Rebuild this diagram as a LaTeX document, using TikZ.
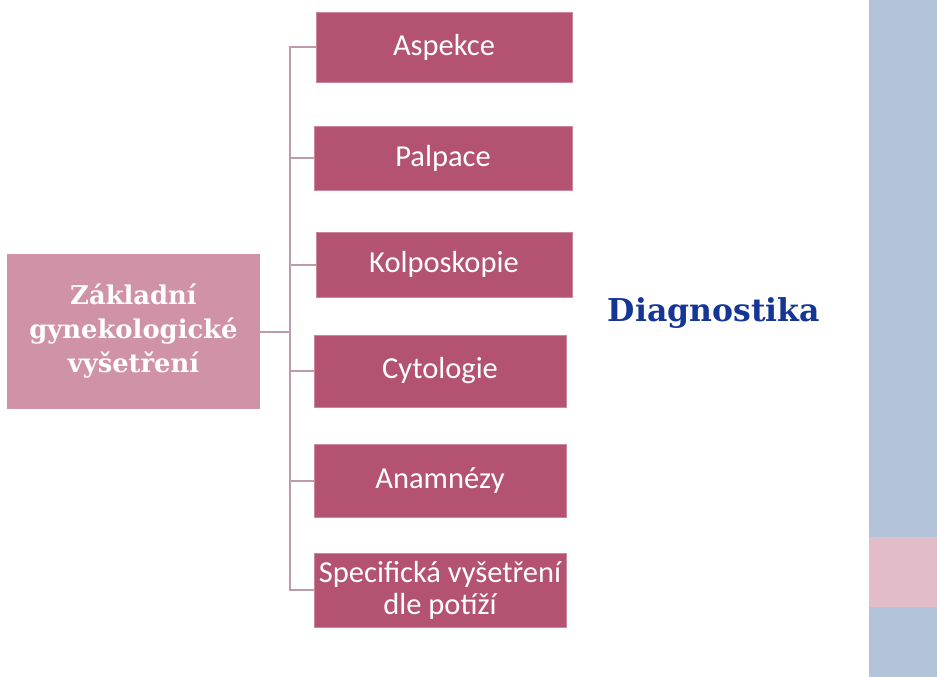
\documentclass[tikz,border=0pt]{standalone}
\usepackage{fontspec}
\setmainfont{Carlito}
\newfontfamily\headfont{DejaVu Serif}
\usepackage{tikz}
\usetikzlibrary{positioning}

\definecolor{boxrose}{RGB}{180,82,114}
\definecolor{rootrose}{RGB}{208,146,166}
\definecolor{linkrose}{RGB}{190,155,172}
\definecolor{barblue}{RGB}{179,196,218}
\definecolor{barpink}{RGB}{226,188,200}
\definecolor{headblue}{RGB}{22,54,150}

\tikzstyle{item} = [rectangle, fill=boxrose, draw=boxrose!70, line width=0.5pt,
                text=white, align=center, inner sep=0pt,
                font=\fontsize{30.5}{32}\selectfont]
\tikzstyle{root} = [rectangle, fill=rootrose, text=white, align=center,
                inner sep=0pt, minimum width=253pt, minimum height=155pt,
                font=\headfont\bfseries\fontsize{25.8}{34}\selectfont]
\tikzstyle{branch} = [draw=linkrose, line width=2pt]

\begin{document}
\begin{tikzpicture}[x=1pt,y=-1pt]
            \useasboundingbox (0,0) rectangle (937,677);
            % side bar
            \fill[barblue] (869,0) rectangle (937,677);
            \fill[barpink] (869,537) rectangle (937,607);

            \node[root] (zakladni) at (133.5,331.5) {Základní\\gynekologické\\vyšetření};
            \node[item, minimum width=256pt, minimum height=70pt] (aspekce) at (444,47) {Aspekce};
            \node[item, minimum width=258pt, minimum height=64pt] (palpace) at (443,158) {Palpace};
            \node[item, minimum width=256pt, minimum height=65pt] (kolposkopie) at (444,264.5) {Kolposkopie};
            \node[item, minimum width=252pt, minimum height=72pt] (cytologie) at (440,371) {Cytologie};
            \node[item, minimum width=252pt, minimum height=73pt] (anamnezy) at (440,480.5) {Anamnézy};
            \node[item, minimum width=252pt, minimum height=74pt] (specificka) at (440,590) {Specifická vyšetření\\dle potíží};
            \node[text=headblue, font=\headfont\bfseries\fontsize{31.5}{36}\selectfont] (diag) at (714,313) {Diagnostika};

            \coordinate (fork) at (290,331.5);
            \path[branch] (zakladni.east) -- (fork);
            \path[branch] (fork) |- (aspekce.west);
            \path[branch] (fork) |- (palpace.west);
            \path[branch] (fork) |- (kolposkopie.west);
            \path[branch] (fork) |- (cytologie.west);
            \path[branch] (fork) |- (anamnezy.west);
            \path[branch] (fork) |- (specificka.west);
        \end{tikzpicture}
\end{document}
